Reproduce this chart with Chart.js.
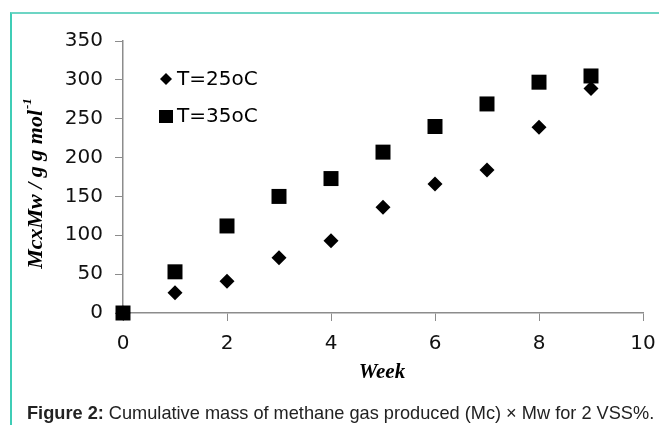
<!DOCTYPE html>
<html>
<head>
<meta charset="utf-8">
<script src="https://cdn.jsdelivr.net/npm/chart.js@4/dist/chart.umd.min.js"></script>
<style>
  html, body { margin: 0; padding: 0; background: #fff; }
  #wrap { position: relative; width: 659px; height: 425px; overflow: hidden; }
  #frame { position: absolute; left: 10px; top: 12px; right: 0; bottom: -4px;
           border-top: 2px solid #6dd5c4; border-left: 2px solid #3fcdb6; }
  canvas { position: absolute; left: 0; top: 0; }
</style>
</head>
<body>
<div id="wrap">
  <div id="frame"></div>
  <canvas id="grafico" width="659" height="425"></canvas>
</div>
<script>
const semanas = [0, 1, 2, 3, 4, 5, 6, 7, 8, 9];
const t25 = [0, 26, 41, 71, 93, 136, 166, 184, 239, 289];
const t35 = [0, 53, 112, 150, 173, 207, 240, 269, 297, 305];
const rotulos = ["T=25oC", "T=35oC"];
const tituloY = "McxMw / g g mol";
const tituloX = "Week";
const legenda = "Cumulative mass of methane gas produced (Mc) \u00d7 Mw for 2 VSS%.";

const pontos = (ys) => semanas.map((x, i) => ({ x, y: ys[i] }));
const cinza = "#8c8c8c";
const fonteEixo = { family: "'DejaVu Sans', Verdana, sans-serif", size: 20 };

const textos = {
  id: "textos",
  afterDraw(chart) {
    const ctx = chart.ctx;
    ctx.save();
    ctx.fillStyle = "#000";
    ctx.textBaseline = "middle";

    // legenda interna
    ctx.font = "20px 'DejaVu Sans', Verdana, sans-serif";
    ctx.fillText(rotulos[0], 177, 80);
    ctx.fillText(rotulos[1], 177, 117);
    ctx.beginPath();
    ctx.moveTo(166, 73); ctx.lineTo(172, 79); ctx.lineTo(166, 85); ctx.lineTo(160, 79);
    ctx.closePath(); ctx.fill();
    ctx.fillRect(159, 110, 14, 13);

    // titulo eixo x
    ctx.textAlign = "center";
    ctx.font = "bold italic 21px 'Liberation Serif', 'Times New Roman', serif";
    ctx.fillText(tituloX, 382, 373);

    // titulo eixo y (com expoente)
    ctx.translate(36, 184);
    ctx.rotate(-Math.PI / 2);
    ctx.font = "bold italic 22px 'Liberation Serif', 'Times New Roman', serif";
    const w1 = ctx.measureText(tituloY).width;
    ctx.font = "bold italic 13px 'Liberation Serif', 'Times New Roman', serif";
    const w2 = ctx.measureText("-1").width;
    ctx.textAlign = "left";
    const x0 = -(w1 + w2) / 2;
    ctx.font = "bold italic 22px 'Liberation Serif', 'Times New Roman', serif";
    ctx.fillText(tituloY, x0, 0);
    ctx.font = "bold italic 13px 'Liberation Serif', 'Times New Roman', serif";
    ctx.fillText("-1", x0 + w1 + 1, -8);
    ctx.restore();

    // legenda da figura
    ctx.save();
    ctx.fillStyle = "#222";
    ctx.textBaseline = "alphabetic";
    ctx.font = "bold 18.2px 'Liberation Sans', Arial, sans-serif";
    const pre = "Figure 2:";
    ctx.fillText(pre, 27, 419);
    const wp = ctx.measureText(pre).width;
    ctx.font = "18.2px 'Liberation Sans', Arial, sans-serif";
    ctx.fillText(" " + legenda, 27 + wp, 419);
    ctx.restore();
  }
};

new Chart(document.getElementById("grafico"), {
  type: "scatter",
  data: {
    datasets: [
      {
        label: rotulos[0],
        data: pontos(t25),
        pointStyle: "rectRot",
        pointRadius: 7.5,
        pointHoverRadius: 7.5,
        backgroundColor: "#000",
        borderColor: "#000",
        borderWidth: 0,
        clip: false,
      },
      {
        label: rotulos[1],
        data: pontos(t35),
        pointStyle: "rect",
        pointRadius: 10.6,
        pointHoverRadius: 10.6,
        backgroundColor: "#000",
        borderColor: "#000",
        borderWidth: 0,
        clip: false,
      },
    ],
  },
  options: {
    responsive: false,
    animation: false,
    events: [],
    layout: { padding: { left: 0, right: 16, top: 41, bottom: 0 } },
    plugins: { legend: { display: false }, tooltip: { enabled: false } },
    scales: {
      x: {
        type: "linear",
        min: 0,
        max: 10,
        afterFit: (s) => { s.height = 112; s.paddingRight = 0; s.paddingLeft = 0; },
        ticks: { stepSize: 2, color: "#111", font: fonteEixo, padding: 11 },
        grid: { drawOnChartArea: false, drawTicks: true, tickLength: 8, color: cinza },
        border: { color: cinza, width: 1.5 },
      },
      y: {
        min: 0,
        max: 350,
        afterFit: (s) => { s.width = 123; s.paddingTop = 0; s.paddingBottom = 0; },
        ticks: { stepSize: 50, color: "#111", font: fonteEixo, padding: 12 },
        grid: { drawOnChartArea: false, drawTicks: true, tickLength: 8, color: cinza },
        border: { color: cinza, width: 1.5 },
      },
    },
  },
  plugins: [textos],
});
</script>
</body>
</html>
